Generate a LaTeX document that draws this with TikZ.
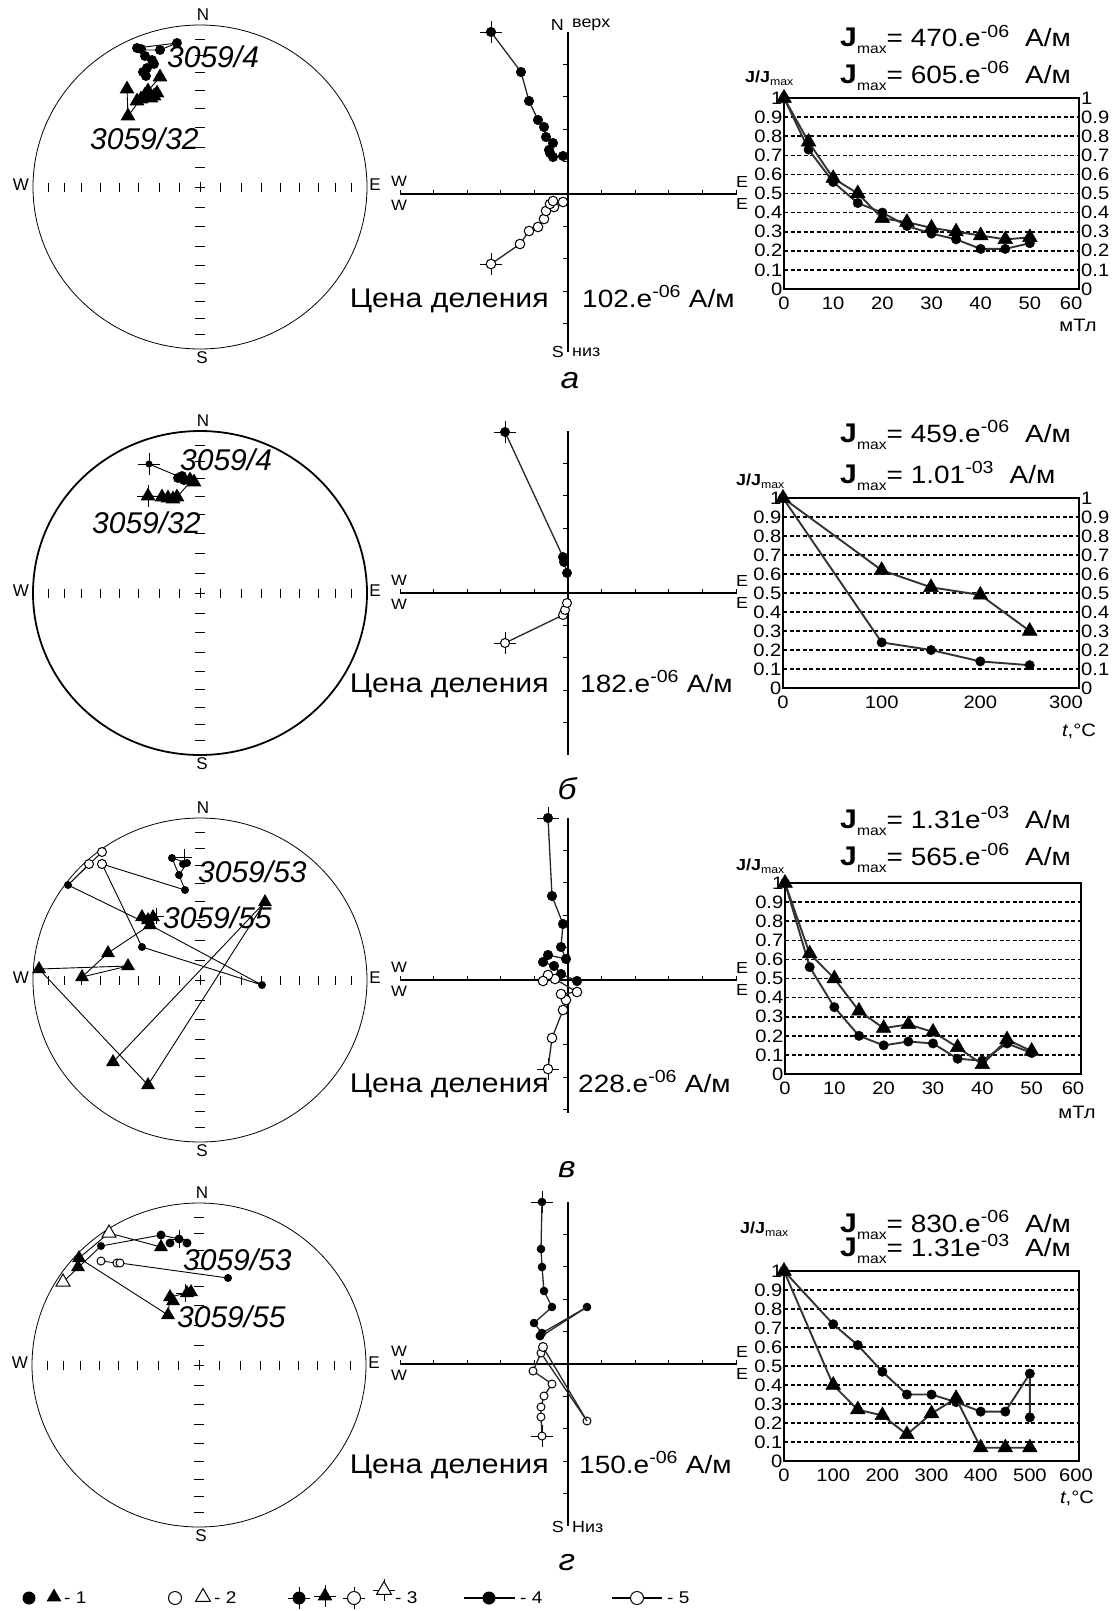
\documentclass[tikz,border=0pt]{standalone}
\usepackage{fontspec}
\setmainfont{Liberation Sans}[FakeStretch=1.12]
\newfontfamily\stf{Liberation Sans}
\usetikzlibrary{plotmarks}
\newcommand\fs[1]{\fontsize{#1}{#1}\selectfont}
\tikzset{
  sline/.style={line width=0.9pt},
  zaxis/.style={line width=1.6pt},
  zline/.style={line width=1.3pt, black!85},
  cline/.style={line width=1.9pt, black!80},
  gridl/.style={line width=1.6pt, dash pattern=on 4pt off 2.5pt},
  frm/.style={line width=2.3pt},
  mkfc/.style={mark=*, mark size=#1, mark options={fill=black, draw=black, line width=0.5pt, solid}},
  mkfc/.default=4.7pt,
  mkoc/.style={mark=*, mark size=#1, mark options={fill=white, draw=black, line width=1pt, solid}},
  mkoc/.default=4.5pt,
  mktri/.style={mark=triangle*, mark size=#1, mark options={fill=black, draw=black, line width=0.5pt, solid}},
  mktri/.default=8.5pt,
  txt/.style={inner sep=0pt},
}
\newcommand\mfc[3][4.5]{\fill (#2,#3) circle (#1pt);}
\newcommand\moc[3][4.5]{\filldraw[fill=white,line width=1pt] (#2,#3) circle (#1pt);}
\newcommand\mft[3][8]{\fill ([shift={(90:#1pt)}]#2,#3) -- ([shift={(210:#1pt)}]#2,#3) -- ([shift={(330:#1pt)}]#2,#3) -- cycle;}
\newcommand\mot[3][8]{\filldraw[fill=white,line width=1pt] ([shift={(90:#1pt)}]#2,#3) -- ([shift={(210:#1pt)}]#2,#3) -- ([shift={(330:#1pt)}]#2,#3) -- cycle;}
\newcommand\mcr[3][11]{\draw[line width=0.9pt] (#2,#3) ++(-#1,0) -- ++(2*#1,0) (#2,#3) ++(0,-#1) -- ++(0,2*#1);}
\newcommand\stereo[3]{%
  \draw[line width=#3] (#1,#2) ellipse [x radius=167pt, y radius=162pt];
  \foreach \a in {10,20,...,80}{
    \pgfmathsetmacro\dx{167*1.41421*sin((90-\a)/2)}
    \pgfmathsetmacro\dy{162*1.41421*sin((90-\a)/2)}
    \draw[line width=0.9pt] (#1+\dx,#2-4.5) -- (#1+\dx,#2+4.5) (#1-\dx,#2-4.5) -- (#1-\dx,#2+4.5)
      (#1-5,#2+\dy) -- (#1+5,#2+\dy) (#1-5,#2-\dy) -- (#1+5,#2-\dy);
  }
  \draw[line width=0.9pt] (#1-5,#2) -- (#1+5,#2) (#1,#2-5) -- (#1,#2+5);
  \node[txt,font=\stf\fs{17}] at (#1+3,#2-172) {N};
  \node[txt,font=\stf\fs{17}] at (#1+2,#2+171) {S};
  \node[txt,font=\stf\fs{17}] at (#1-179,#2-2) {W};
  \node[txt,font=\stf\fs{17}] at (#1+175,#2-2) {E};
}
\newcommand\zij[2]{%
  \draw[zaxis] (401,#1) -- (737,#1);
  \draw[zaxis] (568,#1-162) -- (568,#2);
  \foreach \i in {1,...,5}{
    \draw[line width=1pt] (568+33.6*\i,#1-4) -- (568+33.6*\i,#1+1) (568-33.6*\i,#1-4) -- (568-33.6*\i,#1+1);
  }
  \foreach \i in {1,...,4}{
    \draw[line width=1pt] (563,#1+32.4*\i) -- (568,#1+32.4*\i) (563,#1-32.4*\i) -- (568,#1-32.4*\i);
  }
  \node[txt,font=\fs{15}] at (399,#1-13) {W};
  \node[txt,font=\fs{15}] at (399,#1+11) {W};
  \node[txt,font=\fs{16}] at (742,#1-12) {E};
  \node[txt,font=\fs{16}] at (742,#1+10) {E};
}
% #1 xmax, #2 xstep, #3 xshift (pt) of the last x label
\newcommand\chartbase[3]{%
  \foreach \k in {1,...,9} \draw[gridl] (0,\k/10) -- (#1,\k/10);
  \draw[frm] (0,0) rectangle (#1,1);
  \foreach \k/\t in {0/0,1/0.1,2/0.2,3/0.3,4/0.4,5/0.5,6/0.6,7/0.7,8/0.8,9/0.9,10/1}{
    \node[anchor=east,inner sep=1.5pt,font=\fs{18}] at (0,\k/10) {\t};
  }
  \foreach \v in {0,#2,...,#1}{
    \pgfmathtruncatemacro\islast{\v==#1}
    \ifnum\islast=1
      \node[anchor=north,inner sep=0pt,font=\fs{18}] at ([xshift=#3pt,yshift=-8pt]\v,0) {\v};
    \else
      \node[anchor=north,inner sep=0pt,font=\fs{18}] at ([yshift=-8pt]\v,0) {\v};
    \fi
  }
}
\newcommand\rightlabels[1]{%
  \foreach \k/\t in {0/0,1/0.1,2/0.2,3/0.3,4/0.4,5/0.5,6/0.6,7/0.7,8/0.8,9/0.9,10/1}{
    \node[anchor=west,inner sep=2pt,font=\fs{18}] at (#1,\k/10) {\t};
  }
}
\newcommand\jm[2]{{\fs{27}\bfseries J}\raisebox{-7pt}{\fs{14}max}{\fs{25}= #1\textsuperscript{#2}\ \ А/м}}
\newcommand\jj{{\fs{16}\bfseries J/J}\raisebox{-3pt}{\fs{11}max}}
\begin{document}
\begin{tikzpicture}[x=1pt,y=-1pt]
\useasboundingbox (0,0) rectangle (1115,1611);
\fill[white] (0,0) rectangle (1115,1611);

% ================= Panel a =================
\stereo{200}{187}{0.8pt}
\draw[sline] (177,43) -- (137,48) (177,43) -- (160,50) -- (141,50) -- (145,56) -- (152,60) -- (154,64) -- (147,68) -- (143,72) -- (146,76);
\foreach \x/\y in {177/43,137/48,141/49,160/50,145/56,152/60,154/64,147/68,143/72,146/76} {\mfc[5]{\x}{\y}}
\draw[sline] (127,89) -- (128,116) -- (140,100) -- (160,77);
\foreach \x/\y in {127/89,128/116,137/101,141/99,145/95,148/91,151/98,154/96,157/93,160/77} {\mft[8.5]{\x}{\y}}
\node[txt,anchor=west,font=\stf\itshape\fs{30}] at (167,57) {3059/4};
\node[txt,anchor=west,font=\stf\itshape\fs{30}] at (90,139) {3059/32};

\zij{194}{352}
\node[txt,anchor=east,font=\fs{16}] at (564,25) {N};
\node[txt,anchor=west,font=\fs{16}] at (572,25) {верх};
\node[txt,anchor=east,font=\fs{16}] at (564,352) {S};
\node[txt,anchor=west,font=\fs{16}] at (572,352) {низ};
\mcr{491}{32}
\draw[zline] plot[mkfc=4.8pt] coordinates {(491,32) (521,72) (529,101) (538,120) (544,127) (546,137) (553,143) (549,150) (550,153) (553,157) (563,156)};
\mcr{491}{264}
\draw[zline] plot[mkoc=4.8pt] coordinates {(491,264) (520,244) (529,231) (538,227) (544,219) (546,211) (554,207) (550,204) (553,201) (563,202)};
\node[txt,anchor=base east,font=\fs{27}] at (549,307) {Цена деления};
\node[txt,anchor=base west,font=\fs{25}] at (582,307) {102.e\textsuperscript{-06} А/м};

\begin{scope}[shift={(784pt,-289pt)},x=4.917pt,y=191pt]
\chartbase{60}{10}{-8}
\rightlabels{60}
\draw[cline] plot[mkfc] coordinates {(0,1) (5,0.73) (10,0.56) (15,0.45) (20,0.4) (25,0.33) (30,0.29) (35,0.26) (40,0.21) (45,0.21) (50,0.24)};
\draw[cline] plot[mktri] coordinates {(0,1) (5,0.77) (10,0.58) (15,0.5) (20,0.37) (25,0.35) (30,0.32) (35,0.3) (40,0.28) (45,0.26) (50,0.27)};
\end{scope}
\node[txt,font=\fs{18}] at (1078,325) {мТл};
\node[txt,anchor=base west] at (840,47) {\jm{470.e}{-06}};
\node[txt,anchor=base west] at (840,83) {\jm{605.e}{-06}};
\node[txt,anchor=base west] at (745,82) {\jj};
\node[txt,font=\itshape\fs{30}] at (570,381) {а};

% ================= Panel b =================
\stereo{200}{593}{1.8pt}
\mcr{149}{464}
\draw[sline] (149,464) -- (180,477);
\mfc[3.5]{149}{464}
\foreach \x/\y in {178/478,182/476,184/480} {\mfc[5]{\x}{\y}}
\mcr{148}{496}
\draw[sline] (148,496) -- (177,497) -- (192,480);
\foreach \x/\y in {148/496,162/497,168/498,173/499,177/497,190/480,194/482} {\mft[8.5]{\x}{\y}}
\node[txt,anchor=west,font=\stf\itshape\fs{30}] at (180,460) {3059/4};
\node[txt,anchor=west,font=\stf\itshape\fs{30}] at (92,523) {3059/32};

\zij{593}{755}
\mcr{505}{432}
\draw[zline] plot[mkfc] coordinates {(505,432) (563,557) (564,562) (567,573)};
\mcr{505}{643}
\draw[zline] plot[mkoc] coordinates {(505,643) (563,615) (565,610) (567,603)};
\node[txt,anchor=base east,font=\fs{27}] at (549,692) {Цена деления};
\node[txt,anchor=base west,font=\fs{25}] at (580,692) {182.e\textsuperscript{-06} А/м};

\begin{scope}[shift={(783pt,-688pt)},x=0.9867pt,y=190pt]
\chartbase{300}{100}{-13}
\rightlabels{300}
\draw[cline] plot[mkfc] coordinates {(0,1) (100,0.24) (150,0.2) (200,0.14) (250,0.12)};
\draw[cline] plot[mktri] coordinates {(0,1) (100,0.62) (150,0.53) (200,0.49) (250,0.3)};
\end{scope}
\node[txt,font=\fs{18}] at (1079,731) {\itshape t\upshape,°C};
\node[txt,anchor=base west] at (840,442) {\jm{459.e}{-06}};
\node[txt,anchor=base west] at (840,483) {\jm{1.01}{-03}};
\node[txt,anchor=base west] at (736,485) {\jj};
\node[txt,font=\itshape\fs{30}] at (567,789) {б};

% ================= Panel v =================
\stereo{200}{980}{0.8pt}
\draw[sline] (68,885) -- (102,852) (68,885) -- (89,864) (102,864) -- (185,890) (102,864) -- (142,947) -- (262,985) -- (150,925) -- (68,885);
\draw[sline] (150,925) -- (108,953) -- (82,977) -- (128,966) -- (39,969) -- (148,1085) -- (265,902) -- (113,1062);
\draw[sline] (172,858) -- (187,863) -- (179,875) -- cycle (179,875) -- (185,890);
\mcr[8]{184}{857}
\mcr[8]{156}{916}
\foreach \x/\y in {172/858,187/863,183/864,179/875,185/890,68/885,142/947,262/985} {\mfc[4]{\x}{\y}}
\foreach \x/\y in {102/852,89/864,102/864} {\moc[4.5]{\x}{\y}}
\foreach \x/\y in {142/917,148/920,153/917,150/925,265/902,108/953,128/966,82/977,39/969,113/1062,148/1085} {\mft[8]{\x}{\y}}
\node[txt,anchor=west,font=\stf\itshape\fs{30}] at (198,872) {3059/53};
\node[txt,anchor=west,font=\stf\itshape\fs{30}] at (163,918) {3059/55};

\zij{980}{1113}
\mcr{548}{818}
\draw[zline] plot[mkfc=4.8pt] coordinates {(548,818) (552,896) (563,924) (561,947) (566,959) (548,955) (543,962) (554,966) (561,974) (577,981)};
\mcr{548}{1069}
\draw[zline] plot[mkoc=4.8pt] coordinates {(548,1069) (552,1038) (563,1010) (566,1000) (561,994) (577,992) (555,979) (548,975) (543,981)};
\node[txt,anchor=base east,font=\fs{27}] at (549,1092) {Цена деления};
\node[txt,anchor=base west,font=\fs{25}] at (578,1092) {228.e\textsuperscript{-06} А/м};

\begin{scope}[shift={(785pt,-1074pt)},x=4.933pt,y=191pt]
\chartbase{60}{10}{-8}
\draw[cline] plot[mkfc] coordinates {(0,1) (5,0.56) (10,0.35) (15,0.2) (20,0.15) (25,0.17) (30,0.16) (35,0.08) (40,0.07) (45,0.16) (50,0.11)};
\draw[cline] plot[mktri] coordinates {(0,1) (5,0.63) (10,0.5) (15,0.33) (20,0.24) (25,0.26) (30,0.22) (35,0.14) (40,0.05) (45,0.18) (50,0.12)};
\end{scope}
\node[txt,font=\fs{18}] at (1077,1112) {мТл};
\node[txt,anchor=base west] at (840,828) {\jm{1.31e}{-03}};
\node[txt,anchor=base west] at (840,865) {\jm{565.e}{-06}};
\node[txt,anchor=base west] at (736,870) {\jj};
\node[txt,font=\itshape\fs{30}] at (567,1170) {в};

% ================= Panel g =================
\stereo{199}{1365}{0.8pt}
\draw[sline] (109,1233) -- (161,1247) (101,1246) -- (161,1235) (101,1246) -- (63,1282) (79,1258) -- (168,1315) (79,1258) -- (109,1233) (120,1263) -- (228,1278) (101,1261) -- (117,1263) (168,1315) -- (170,1297) -- (187,1293) (161,1235) -- (179,1239) -- (187,1243);
\mcr[9]{179}{1239}
\mcr[9]{185}{1293}
\foreach \x/\y in {109/1233,63/1282} {\mot[8]{\x}{\y}}
\foreach \x/\y in {79/1258,78/1267,161/1247,170/1297,173/1301,187/1293,191/1292,168/1315} {\mft[8]{\x}{\y}}
\foreach \x/\y in {161/1235,170/1243,179/1239,187/1243} {\mfc[4.5]{\x}{\y}}
\foreach \x/\y in {101/1246,228/1278} {\mfc[4]{\x}{\y}}
\foreach \x/\y in {101/1261,117/1263,120/1263} {\moc[4]{\x}{\y}}
\node[txt,anchor=west,font=\stf\itshape\fs{30}] at (183,1260) {3059/53};
\node[txt,anchor=west,font=\stf\itshape\fs{30}] at (177,1317) {3059/55};

\zij{1364}{1526}
\node[txt,anchor=east,font=\fs{16}] at (564,1527) {S};
\node[txt,anchor=west,font=\fs{16}] at (572,1527) {Низ};
\mcr{542}{1202}
\draw[zline] plot[mkfc=4pt] coordinates {(542,1202) (541,1249) (542,1267) (544,1291) (552,1307) (534,1323) (542,1333) (587,1307)};
\draw[zline] (587,1307) -- (540,1337);
\mfc[4.5]{540}{1336}
\mcr{542}{1436}
\draw[zline] plot[mkoc=4pt] coordinates {(542,1436) (541,1417) (541,1407) (544,1396) (552,1384) (533,1371) (541,1353) (587,1421)};
\draw[zline] (587,1421) -- (543,1347);
\moc[4.5]{543}{1347}
\node[txt,anchor=base east,font=\fs{27}] at (549,1473) {Цена деления};
\node[txt,anchor=base west,font=\fs{25}] at (579,1473) {150.e\textsuperscript{-06} А/м};

\begin{scope}[shift={(784pt,-1461pt)},x=0.4917pt,y=190pt]
\chartbase{600}{100}{-3}
\draw[cline] plot[mkfc] coordinates {(0,1) (100,0.72) (150,0.61) (200,0.47) (250,0.35) (300,0.35) (350,0.31) (400,0.26) (450,0.26) (500,0.46) (500,0.23)};
\draw[cline] plot[mktri] coordinates {(0,1) (100,0.4) (150,0.27) (200,0.24) (250,0.14) (300,0.25) (350,0.33) (400,0.07) (450,0.07) (500,0.07)};
\end{scope}
\node[txt,font=\fs{18}] at (1077,1498) {\itshape t\upshape,°C};
\node[txt,anchor=base west] at (840,1232) {\jm{830.e}{-06}};
\node[txt,anchor=base west] at (840,1256) {\jm{1.31e}{-03}};
\node[txt,anchor=base west] at (740,1233) {\jj};
\node[txt,font=\itshape\fs{30}] at (567,1563) {г};

% ================= Legend =================
\mfc[6.5]{29}{1598} \mft[8.5]{54}{1597}
\node[txt,anchor=west,font=\fs{17}] at (64,1598) {- 1};
\moc[6.5]{175}{1598} \mot[8.5]{203}{1597}
\node[txt,anchor=west,font=\fs{17}] at (214,1598) {- 2};
\mcr{299}{1598} \mfc[6.5]{299}{1598}
\mcr{325}{1596} \mft[8.5]{325}{1596}
\mcr{354}{1598} \moc[6.5]{354}{1598}
\mcr{384}{1590} \mot[8.5]{384}{1590}
\node[txt,anchor=west,font=\fs{17}] at (395,1598) {- 3};
\draw[line width=1.2pt] (464,1598) -- (515,1598);
\mfc[6.5]{489}{1598}
\node[txt,anchor=west,font=\fs{17}] at (520,1598) {- 4};
\draw[line width=1.2pt] (612,1598) -- (662,1598);
\moc[6.5]{637}{1598}
\node[txt,anchor=west,font=\fs{17}] at (667,1598) {- 5};
\end{tikzpicture}
\end{document}
